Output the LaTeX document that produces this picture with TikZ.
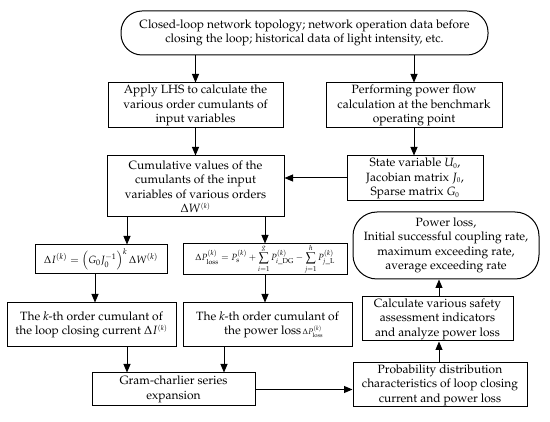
\documentclass[tikz,border=0pt]{standalone}
\usepackage[T1]{fontenc}
\usepackage{mathpazo}
\usetikzlibrary{arrows.meta}
\begin{document}
\begin{tikzpicture}[x=1pt,y=-1pt,
  box/.style={draw, line width=1pt, align=center, inner sep=0pt,
    font=\fontsize{12}{14.5}\selectfont},
  roundbox/.style={box, rounded corners=21pt},
  arr/.style={line width=1pt, -{Triangle[length=8.5pt,width=7pt]}}]
\useasboundingbox (0,0) rectangle (550,422);
% nodes
\node[roundbox, minimum width=367pt, minimum height=44pt] (top) at (304.5,33)
  {Closed-loop network topology; network operation data before\\closing the loop; historical data of light intensity, etc.};
\node[box, minimum width=175pt, minimum height=45pt] (lhs) at (195.5,105.5)
  {Apply LHS to calculate the\\various order cumulants of\\input variables};
\node[box, minimum width=176pt, minimum height=45pt] (pf) at (414,105.5)
  {Performing power flow\\calculation at the benchmark\\operating point};
\node[box, minimum width=177pt, minimum height=61pt] (cum) at (195.5,186.5)
  {Cumulative values of the\\cumulants of the input\\variables of various orders\\$\Delta W^{\scriptscriptstyle (k)}$};
\node[box, minimum width=136pt, minimum height=45pt] (state) at (415,178.5)
  {State variable $U_{\scriptscriptstyle 0}$,\\Jacobian matrix $J_{\scriptscriptstyle 0}$,\\Sparse matrix $G_{\scriptscriptstyle 0}$};
\node[roundbox, rounded corners=24pt, minimum width=186pt, minimum height=67pt] (res) at (446,245.5)
  {Power loss,\\Initial successful coupling rate,\\maximum exceeding rate,\\average exceeding rate};
\node[box, minimum width=132pt, minimum height=29pt, font=\fontsize{10.5}{12}\selectfont] (dI) at (101,259.5)
  {$\Delta I^{(k)} = \left(G_0 J_0^{-1}\right)^{k} \Delta W^{(k)}$};
\node[box, minimum width=164pt, minimum height=31pt, font=\fontsize{9}{10}\selectfont] (dP) at (265,259.5)
  {$\displaystyle \Delta P_{\mathrm{loss}}^{(k)} = P_{\mathrm{s}}^{(k)} + \sum_{\rule{0pt}{6.5pt}i=1}^{\rule[-1.5pt]{0pt}{0pt}g} P_{i\_\mathrm{DG}}^{(k)} - \sum_{\rule{0pt}{6.5pt}j=1}^{\rule[-1.5pt]{0pt}{0pt}h} P_{j\_\mathrm{L}}^{(k)}$};
\node[box, minimum width=169pt, minimum height=44pt] (kI) at (91.5,325)
  {The \textit{k}-th order cumulant of\\the loop closing current $\Delta I^{\scriptscriptstyle (k)}$};
\node[box, minimum width=169pt, minimum height=44pt] (kP) at (267.5,325)
  {The \textit{k}-th order cumulant of\\\phantom{xx}the power loss{\footnotesize$\,\Delta P_{\mathrm{loss}}^{(k)}$}};
\node[box, minimum width=151pt, minimum height=44pt] (calc) at (437.5,319)
  {Calculate various safety\\assessment indicators\\and analyze power loss};
\node[box, minimum width=163pt, minimum height=33pt] (gram) at (173.5,389.5)
  {Gram-charlier series\\expansion};
\node[box, minimum width=174pt, minimum height=44pt] (prob) at (440,385)
  {Probability distribution\\characteristics of loop closing\\current and power loss};
% helper x positions
\coordinate (xa) at (127,0);
\coordinate (xb) at (95,0);
\coordinate (xc) at (224,0);
\coordinate (xd) at (439,0);
\coordinate (ya) at (0,178);
% connectors
\draw[arr] (top.south -| lhs) -- (lhs.north);
\draw[arr] (top.south -| pf) -- (pf.north);
\draw[arr] (lhs.south) -- (lhs.south |- cum.north);
\draw[arr] (pf.south) -- (pf.south |- state.north);
\draw[arr] (state.west |- ya) -- (cum.east |- ya);
\draw[arr] (cum.south -| xa) -- (dI.north -| xa);
\draw[arr] (cum.south -| dP) -- (dP.north);
\draw[arr] (dI.south -| xb) -- (kI.north -| xb);
\draw[arr] (dP.south) -- (dP.south |- kP.north);
\draw[arr] (kI.south -| xa) -- (gram.north -| xa);
\draw[arr] (kP.south -| xc) -- (gram.north -| xc);
\draw[arr] (gram.east) -- (gram.east -| prob.west);
\draw[arr] (prob.north -| xd) -- (calc.south -| xd);
\draw[arr] (calc.north -| xd) -- (res.south -| xd);
\end{tikzpicture}
\end{document}
